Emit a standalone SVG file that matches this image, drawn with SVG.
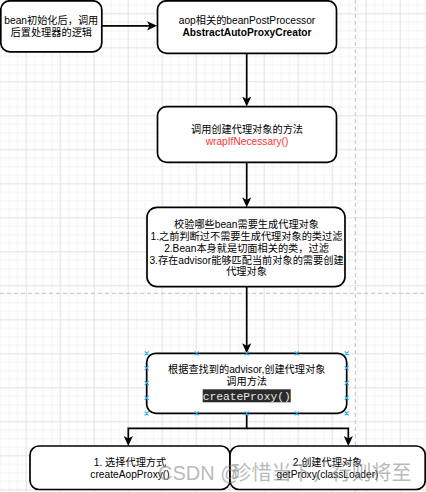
<svg xmlns="http://www.w3.org/2000/svg" width="426" height="492" viewBox="0 0 426 492">
<style>
.box{fill:#fff;stroke:#000;stroke-width:1.7}
.t{font-family:'Liberation Sans','Noto Sans CJK SC',sans-serif;font-size:10.2px;fill:#000;text-anchor:middle}
.b{font-weight:bold}
.red{fill:#ff3333}
.code{font-family:'Liberation Mono',monospace;font-size:11.3px;fill:#e6e6e6;text-anchor:middle}
.edge{fill:none;stroke:#000;stroke-width:1.7}
.pb{stroke:#c4c4c4;stroke-width:1;stroke-dasharray:4 3;fill:none}
.h{stroke:#29b6f2;stroke-width:1.2;fill:none}
.wm{font-family:'Liberation Sans','Noto Sans CJK SC',sans-serif;font-size:20px;fill:#8a8a8a;fill-opacity:0.6}
</style>
<defs>
<pattern id="grid" x="25.7" y="13.3" width="34" height="34" patternUnits="userSpaceOnUse">
<rect x="8.5" y="0" width="1" height="34" fill="#f3f3f3"/>
<rect x="17" y="0" width="1" height="34" fill="#f3f3f3"/>
<rect x="25.5" y="0" width="1" height="34" fill="#f3f3f3"/>
<rect x="0" y="8.5" width="34" height="1" fill="#f3f3f3"/>
<rect x="0" y="17" width="34" height="1" fill="#f3f3f3"/>
<rect x="0" y="25.5" width="34" height="1" fill="#f3f3f3"/>
<rect x="0" y="0" width="1" height="34" fill="#e2e2e2"/>
<rect x="0" y="0" width="34" height="1" fill="#e2e2e2"/>
</pattern>
<marker id="arr" markerUnits="userSpaceOnUse" markerWidth="10" markerHeight="10" viewBox="0 0 10 10" refX="5" refY="5" orient="auto">
<path d="M0,0.4 L10,5 L0,9.6 L2.6,5 z" fill="#000"/>
</marker>
</defs>
<rect width="426" height="492" fill="#fff"/>
<rect width="426" height="492" fill="url(#grid)"/>
<line class="pb" x1="355.3" y1="0" x2="355.3" y2="492"/>
<line class="pb" x1="0" y1="293.3" x2="426" y2="293.3"/>

<g id="connectors">
<path class="edge" d="M101.8,25.8 H152" marker-end="url(#arr)"/>
<path class="edge" d="M246.7,53.3 V101.5" marker-end="url(#arr)"/>
<path class="edge" d="M246.7,162.3 V202.3" marker-end="url(#arr)"/>
<path class="edge" d="M246.7,286.7 V348.2" marker-end="url(#arr)"/>
<path class="edge" d="M246.7,413.3 V428.3 H128.3 V441" marker-end="url(#arr)"/>
<path class="edge" d="M246.7,428.3 H348.3 V441" marker-end="url(#arr)"/>
</g>

<g id="node-bean-init">
<rect class="box" x="0.8" y="0.8" width="101" height="51" rx="9"/>
<text class="t" x="51.3" y="24.2">bean初始化后，调用</text>
<text class="t" x="51.3" y="36.1">后置处理器的逻辑</text>
</g>

<g id="node-aop-processor">
<rect class="box" x="157.5" y="0.8" width="179" height="52.5" rx="9"/>
<text class="t" x="247" y="24.2">aop相关的beanPostProcessor</text>
<text class="t b" x="247" y="36.1">AbstractAutoProxyCreator</text>
</g>

<g id="node-wrap">
<rect class="box" x="157.5" y="106.7" width="179" height="55.6" rx="9"/>
<text class="t" x="247" y="132.6">调用创建代理对象的方法</text>
<text class="t red" x="247" y="144.5">wrapIfNecessary()</text>
</g>

<g id="node-check">
<rect class="box" x="147" y="207.3" width="198" height="79.4" rx="10"/>
<text class="t" x="246.5" y="227.8">校验哪些bean需要生成代理对象</text>
<text class="t" x="246.5" y="239.7">1.之前判断过不需要生成代理对象的类过滤</text>
<text class="t" x="246.5" y="251.6">2.Bean本身就是切面相关的类，过滤</text>
<text class="t" x="246.5" y="263.5">3.存在advisor能够匹配当前对象的需要创建</text>
<text class="t" x="246.5" y="275.4">代理对象</text>
</g>

<g id="node-create-proxy">
<rect class="box" x="146.7" y="353.3" width="200" height="60" rx="9"/>
<text class="t" x="246.7" y="372.9">根据查找到的advisor,创建代理对象</text>
<text class="t" x="246.7" y="385.3">调用方法</text>
<rect x="202.7" y="389.3" width="88" height="13" fill="#2b2b2b"/>
<text class="code" x="246.7" y="399.6">createProxy()</text>
<path class="h" d="M144.7,351.3l4,4m0,-4l-4,4 M194.7,351.3l4,4m0,-4l-4,4 M244.7,351.3l4,4m0,-4l-4,4 M294.7,351.3l4,4m0,-4l-4,4 M344.7,351.3l4,4m0,-4l-4,4 M144.7,411.3l4,4m0,-4l-4,4 M194.7,411.3l4,4m0,-4l-4,4 M244.7,411.3l4,4m0,-4l-4,4 M294.7,411.3l4,4m0,-4l-4,4 M344.7,411.3l4,4m0,-4l-4,4 M144.7,366.2l4,4m0,-4l-4,4 M144.7,381l4,4m0,-4l-4,4 M144.7,395.9l4,4m0,-4l-4,4 M344.7,366.2l4,4m0,-4l-4,4 M344.7,381l4,4m0,-4l-4,4 M344.7,395.9l4,4m0,-4l-4,4"/>
</g>

<g id="node-select">
<rect class="box" x="30" y="446" width="200" height="43.5" rx="9"/>
<text class="t" x="130" y="466.2">1. 选择代理方式</text>
<text class="t" x="130" y="478.1">createAopProxy()</text>
</g>

<g id="node-get-proxy">
<rect class="box" x="230" y="446" width="195.2" height="43.5" rx="9"/>
<text class="t" x="327.5" y="466.2">2.创建代理对象</text>
<text class="t" x="327.5" y="478.1">getProxy(classLoader)</text>
</g>

<text class="wm" x="158" y="479.5">CSDN @<tspan x="231.5">珍惜当下，行则将至</tspan></text>
</svg>
